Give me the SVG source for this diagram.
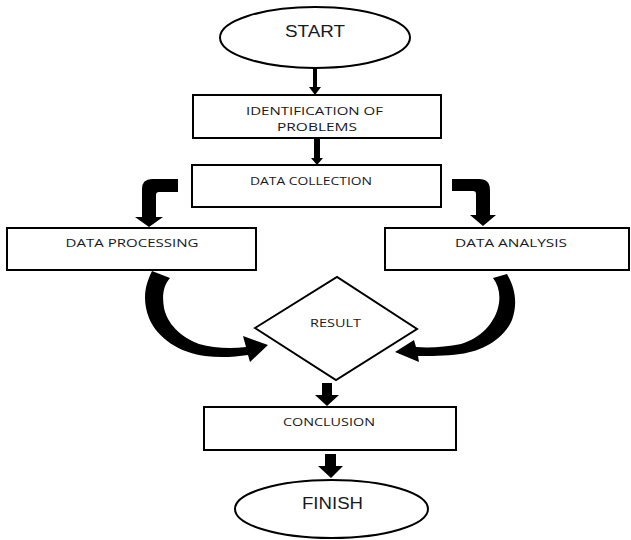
<svg xmlns="http://www.w3.org/2000/svg" width="631" height="540" viewBox="0 0 631 540">
  <style>
    .shape { fill: #ffffff; stroke: #000000; stroke-width: 2; }
    .label { font-family: "Open Sans", "Liberation Sans", sans-serif; font-size: 11.6px; fill: #1a1a1a; text-anchor: middle; }
    .term { font-family: "Liberation Sans", Arial, sans-serif; font-size: 16px; fill: #1a1a1a; text-anchor: middle; }
    .arrow { fill: #000000; stroke: none; }
  </style>
  <rect width="631" height="540" fill="#ffffff"/>

  <!-- connectors -->
  <g id="connectors">
    <!-- start to identification -->
    <path class="arrow" d="M313,68 L317,68 L317,87 L321,87 L315,95 L309,87 L313,87 Z"/>
    <!-- identification to data collection -->
    <path class="arrow" d="M314,139 L320,139 L320,158 L323,158 L317,165 L311,158 L314,158 Z"/>
    <!-- data collection to data processing (elbow) -->
    <path class="arrow" d="M178,179 L152,179 Q142,179 142,189 L142,217 L135,217 L149,227 L163,217 L156,217 L156,195 Q156,192 159,192 L178,192 Z"/>
    <!-- data collection to data analysis (elbow) -->
    <path class="arrow" d="M452,179 L479,179 Q490,179 490,190 L490,215 L496,215 L483,226 L470,215 L476,215 L476,194 Q476,191 473,191 L452,191 Z"/>
    <!-- data processing to result (curved) -->
    <path class="arrow" d="M152,271 C145,285 142,300 149,318 C157,338 180,353 205,356 C220,358 235,357 248,355 L250,362 L268,345 L243,336 L246,347 C230,349 213,348 199,344 C180,337 167,323 164,308 C162,296 163,286 170,278 Z"/>
    <!-- data analysis to result (curved) -->
    <path class="arrow" d="M507,274 C515,288 518,303 512,320 C504,338 484,351 460,354 C445,356 430,356 418,356 L419,362 L395,352 L414,340 L416,347 C430,348 446,347 461,344 C481,338 494,323 498,308 C501,296 499,286 493,278 Z"/>
    <!-- result to conclusion -->
    <path class="arrow" d="M322,383 L332,383 L332,395 L339,395 L327,406 L315,395 L322,395 Z"/>
    <!-- conclusion to finish -->
    <path class="arrow" d="M325,454 L336,454 L336,466 L343,466 L331,478 L318,466 L325,466 Z"/>
  </g>

  <g id="start">
    <ellipse class="shape" cx="315" cy="37.5" rx="95" ry="30.5"/>
    <text class="term" x="315" y="37" textLength="60" lengthAdjust="spacingAndGlyphs">START</text>
  </g>

  <g id="identification">
    <rect class="shape" x="193" y="95" width="248" height="43"/>
    <text class="label" x="314.5" y="115" textLength="137" lengthAdjust="spacingAndGlyphs">IDENTIFICATION OF</text>
    <text class="label" x="317" y="131" textLength="80" lengthAdjust="spacingAndGlyphs">PROBLEMS</text>
  </g>

  <g id="data-collection">
    <rect class="shape" x="192" y="165" width="249" height="42"/>
    <text class="label" x="311" y="185" textLength="122" lengthAdjust="spacingAndGlyphs">DATA COLLECTION</text>
  </g>

  <g id="data-processing">
    <rect class="shape" x="7" y="228" width="249" height="42"/>
    <text class="label" x="132" y="247" textLength="133" lengthAdjust="spacingAndGlyphs">DATA PROCESSING</text>
  </g>

  <g id="data-analysis">
    <rect class="shape" x="385" y="228" width="244" height="42"/>
    <text class="label" x="511" y="247" textLength="112" lengthAdjust="spacingAndGlyphs">DATA ANALYSIS</text>
  </g>

  <g id="result">
    <polygon class="shape" points="255,328 337,277 417,329 336,380"/>
    <text class="label" x="335.5" y="327" textLength="51" lengthAdjust="spacingAndGlyphs">RESULT</text>
  </g>

  <g id="conclusion">
    <rect class="shape" x="204" y="407" width="252" height="43"/>
    <text class="label" x="329" y="426" textLength="92" lengthAdjust="spacingAndGlyphs">CONCLUSION</text>
  </g>

  <g id="finish">
    <ellipse class="shape" cx="331.5" cy="509" rx="96.5" ry="29"/>
    <text class="term" x="332.5" y="509" textLength="61" lengthAdjust="spacingAndGlyphs">FINISH</text>
  </g>
</svg>
